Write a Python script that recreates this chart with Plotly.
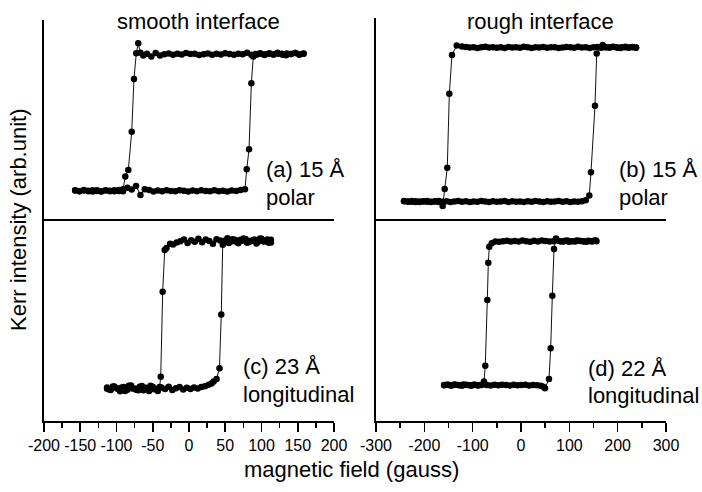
import plotly.graph_objects as go

# ---------------- data (field in gauss, Kerr intensity in arb. units) ----------------
# (a) smooth interface, 15 A, polar
a_down_x = [158,152,146,140,134,128,122,116,110,104,98,92,86,80,74,68,62,56,50,44,
            38,32,26,20,14,8,2,-4,-10,-16,-22,-28,-34,-40,-46,-52,-58,-63,-67,
            -70,-72.7,-75.9,-79,-83.7,-87.9,-91,
            -97,-103,-109,-115,-121,-127,-133,-139,-145,-151,-157]
a_down_y = [0.832,0.826,0.834,0.829,0.823,0.831,0.836,0.827,0.830,0.824,
            0.833,0.829,0.826,0.835,0.828,0.831,0.825,0.829,0.833,0.827,
            0.830,0.826,0.832,0.828,0.824,0.831,0.829,0.834,0.827,0.830,
            0.825,0.832,0.828,0.821,0.834,0.816,0.830,0.822,0.836,
            0.883,0.833,0.704,0.439,0.246,0.213,0.150,
            0.141,0.145,0.139,0.143,0.140,0.144,0.138,0.142,0.146,0.140,0.143]
a_up_x = [-157,-151,-145,-139,-133,-127,-121,-115,-109,-103,-97,-91,-85,-79,-73,-67,-61,-55,-49,-43,
          -37,-31,-25,-19,-13,-7,-1,5,11,17,23,29,35,41,47,53,59,65,71,
          77.2,79.6,82.8,86,88.7,
          93,99,105,111,117,123,129,135,141,147,153,158]
a_up_y = [0.144,0.140,0.143,0.139,0.145,0.141,0.138,0.144,0.142,0.140,
          0.146,0.139,0.157,0.148,0.166,0.121,0.150,0.146,0.138,0.143,
          0.140,0.145,0.141,0.139,0.144,0.142,0.138,0.143,0.140,0.145,
          0.141,0.139,0.144,0.140,0.142,0.138,0.143,0.141,0.146,
          0.149,0.250,0.350,0.682,0.816,
          0.826,0.831,0.828,0.833,0.827,0.830,0.825,0.832,0.829,0.834,0.828,0.831]

# (b) rough interface, 15 A, polar
b_down_x = [238,230,222,214,206,198,190,182,174,166,158,150,142,134,126,118,110,102,94,86,
            78,70,62,54,46,38,30,22,14,6,-2,-10,-18,-26,-34,-42,-50,-58,-66,-74,
            -82,-90,-98,-106,-114,-122,
            -133,-142.8,-148.3,-152.5,-157.9,-162,
            -170,-178,-186,-194,-202,-210,-218,-226,-234,-242]
b_down_y = [0.853,0.856,0.852,0.855,0.851,0.854,0.857,0.853,0.855,0.852,
            0.856,0.854,0.851,0.855,0.853,0.857,0.852,0.854,0.856,0.853,
            0.851,0.855,0.854,0.852,0.856,0.853,0.855,0.851,0.854,0.857,
            0.852,0.855,0.853,0.856,0.851,0.854,0.852,0.855,0.853,0.857,
            0.854,0.851,0.855,0.853,0.856,0.858,
            0.863,0.816,0.623,0.255,0.149,0.065,
            0.085,0.088,0.086,0.089,0.087,0.085,0.088,0.086,0.087,0.089]
b_up_x = [-242,-234,-226,-218,-210,-202,-194,-186,-178,-170,-162,-154,-146,-138,-130,-122,
          -114,-106,-98,-90,-82,-74,-66,-58,-50,-42,-34,-26,-18,-10,-2,6,14,22,30,38,
          46,54,62,70,78,86,94,102,110,118,126,134,
          141.3,144.8,153.1,156.6,169,
          176,184,192,200,208,216,224,232,238]
b_up_y = [0.088,0.086,0.089,0.085,0.087,0.088,0.086,0.084,0.087,0.089,
          0.086,0.088,0.085,0.087,0.089,0.086,0.088,0.085,0.087,0.086,
          0.089,0.087,0.085,0.088,0.086,0.087,0.089,0.085,0.088,0.086,
          0.087,0.085,0.088,0.086,0.089,0.087,0.085,0.088,0.086,0.087,
          0.089,0.086,0.088,0.085,0.087,0.086,0.088,0.093,
          0.117,0.233,0.564,0.824,0.866,
          0.855,0.853,0.856,0.852,0.854,0.857,0.853,0.855,0.852]

# (c) smooth interface, 23 A, longitudinal
c_down_x = [113,108,103,98,93,88,83,78,73,68,63,58,53,48,43,38,33,28,23,18,13,8,3,-2,-7,-12,-17,-22,
            -26,-31,-33.5,-36.3,-39,-40.5,
            -45,-50,-55,-60,-65,-70,-75,-80,-85,-90,-95,-100,-105,-110,-113]
c_down_y = [0.884,0.899,0.888,0.903,0.879,0.894,0.886,0.901,0.892,0.880,
            0.897,0.889,0.905,0.883,0.893,0.900,0.878,0.891,0.898,0.885,
            0.902,0.887,0.895,0.881,0.899,0.890,0.884,0.874,
            0.878,0.856,0.846,0.640,0.219,0.168,
            0.158,0.170,0.149,0.165,0.173,0.152,0.161,0.176,0.155,0.168,0.147,0.163,0.171,0.156,0.166]
c_up_x = [-113,-108,-103,-98,-93,-88,-83,-78,-73,-68,-63,-58,-53,-48,-43,-38,-33,-28,-23,-18,
          -13,-8,-3,2,7,12,17,22,27,
          31,34,38,42,44.5,46.5,
          50,55,60,65,70,75,80,85,90,95,100,105,110,113]
c_up_y = [0.160,0.153,0.171,0.158,0.166,0.149,0.174,0.161,0.155,0.169,
          0.152,0.163,0.175,0.157,0.148,0.166,0.159,0.170,0.154,0.162,
          0.168,0.156,0.164,0.158,0.166,0.161,0.168,0.172,0.180,
          0.186,0.195,0.208,0.261,0.527,0.872,
          0.893,0.881,0.900,0.887,0.896,0.904,0.882,0.892,0.899,0.886,0.902,0.890,0.883,0.897]

# (d) rough interface, 22 A, longitudinal
d_down_x = [155,147,139,131,123,115,107,99,91,83,75,67,59,51,43,35,27,19,11,3,-5,-13,-21,-29,-37,-45,-53,
            -60.6,-65.6,-67.6,-69.7,-73.9,-76.6,
            -82,-90,-98,-106,-114,-122,-130,-138,-146,-154,-159]
d_down_y = [0.893,0.889,0.892,0.888,0.891,0.894,0.890,0.887,0.892,0.889,
            0.893,0.890,0.888,0.891,0.894,0.889,0.892,0.887,0.890,0.893,
            0.889,0.891,0.888,0.892,0.890,0.887,0.889,
            0.880,0.863,0.784,0.599,0.274,0.195,
            0.178,0.176,0.180,0.177,0.179,0.175,0.178,0.181,0.176,0.179,0.177]
d_up_x = [-159,-151,-143,-135,-127,-119,-111,-103,-95,-87,-79,-71,-63,-55,-47,-39,-31,-23,-15,-7,
          1,9,17,25,33,41,46,
          49.7,57.9,61.4,64.8,68.3,72.4,
          80,88,96,104,112,120,128,136,144,152,156]
d_up_y = [0.178,0.180,0.176,0.179,0.177,0.181,0.178,0.175,0.179,0.177,
          0.182,0.178,0.176,0.179,0.177,0.180,0.178,0.176,0.179,0.177,
          0.178,0.180,0.176,0.178,0.177,0.175,0.170,
          0.162,0.208,0.360,0.620,0.851,0.904,
          0.891,0.889,0.893,0.890,0.888,0.892,0.890,0.887,0.891,0.893,0.890]

left_tickvals = [-200,-150,-100,-50,0,50,100,150,200]
left_ticktext = ['-200','-150','-100','-50','0','50','100','150','200']
left_minor = [-175,-125,-75,-25,25,75,125,175]
right_tickvals = [-300,-200,-100,0,100,200,300]
right_ticktext = ['-300','-200','-100','0','100','200','300']
right_minor = [-250,-150,-50,50,150,250]

titles = ['smooth interface', 'rough interface']
labels = [('(a) 15 Å', 'polar'), ('(b) 15 Å', 'polar'),
          ('(c) 23 Å', 'longitudinal'), ('(d) 22 Å', 'longitudinal')]
x_title = 'magnetic field (gauss)'
y_title = 'Kerr intensity (arb.unit)'

# ---------------- figure ----------------
W, H = 702, 492
FONT = 'Liberation Sans, Arial, Helvetica, sans-serif'

def fx(p):
    return p / W

def fy(p):
    return 1 - p / H

series = [(a_down_x, a_down_y, a_up_x, a_up_y),
          (b_down_x, b_down_y, b_up_x, b_up_y),
          (c_down_x, c_down_y, c_up_x, c_up_y),
          (d_down_x, d_down_y, d_up_x, d_up_y)]

for s in series:
    assert len(s[0]) == len(s[1]) and len(s[2]) == len(s[3])

fig = go.Figure()
axn = ['', '2', '3', '4']
for i, (dx, dy, ux, uy) in enumerate(series):
    for xs, ys in ((dx, dy), (ux, uy)):
        fig.add_trace(go.Scatter(
            x=xs, y=ys, xaxis='x' + axn[i], yaxis='y' + axn[i],
            mode='lines+markers',
            line=dict(color='#111111', width=1),
            marker=dict(color='black', size=6.5),
            showlegend=False, hoverinfo='skip'))

col_dom = [[fx(44), fx(334)], [fx(376), fx(666)]]
top_dom = [[fy(219), fy(20)], [fy(219), fy(18)]]
bot_dom = [fy(421), fy(219)]
LW = 1.6

layout = dict(width=W, height=H, margin=dict(l=0, r=0, t=0, b=0, pad=0, autoexpand=False),
              paper_bgcolor='white', plot_bgcolor='white', showlegend=False,
              template='none',
              font=dict(family=FONT, color='black'))

for i in range(4):
    col = i % 2
    row = i // 2
    xr = [-200, 200] if col == 0 else [-300, 300]
    xa = dict(domain=col_dom[col], range=xr, anchor='y' + axn[i], automargin=False,
              showline=True, linecolor='black', linewidth=LW, mirror=False,
              showgrid=False, zeroline=False, fixedrange=True)
    if row == 0:
        xa.update(ticks='', showticklabels=False)
    else:
        tv = left_tickvals if col == 0 else right_tickvals
        tt = left_ticktext if col == 0 else right_ticktext
        mv = left_minor if col == 0 else right_minor
        xa.update(tickmode='array', tickvals=tv, ticktext=tt, ticks='outside',
                  ticklen=9, tickwidth=LW, tickcolor='black',
                  tickfont=dict(size=16, family=FONT, color='black'),
                  minor=dict(tickmode='array', tickvals=mv, ticks='outside',
                             ticklen=5, tickwidth=LW, tickcolor='black',
                             showgrid=False))
    ya = dict(domain=top_dom[col] if row == 0 else bot_dom, range=[0, 1],
              anchor='x' + axn[i], automargin=False,
              showline=True, linecolor='black', linewidth=LW,
              ticks='', showticklabels=False, showgrid=False, zeroline=False,
              fixedrange=True)
    layout['xaxis' + axn[i]] = xa
    layout['yaxis' + axn[i]] = ya

ann = []
def add_text(text, x, y, size=22, xanchor='left', angle=0):
    ann.append(dict(text=text, x=fx(x), y=fy(y), xref='paper', yref='paper',
                    xanchor=xanchor, yanchor='middle', showarrow=False,
                    textangle=angle, font=dict(size=size, family=FONT, color='black')))

add_text(titles[0], 199, 21, xanchor='center')
add_text(titles[1], 540, 21, xanchor='center')
lab_pos = [(264, 169, 197), (617, 169, 197), (241, 366, 394), (586, 368, 395)]
for (l1, l2), (x, y1, y2) in zip(labels, lab_pos):
    add_text(l1, x, y1)
    add_text(l2, x, y2)
add_text(x_title, 351, 469, xanchor='center')
add_text(y_title, 18, 220, xanchor='center', angle=-90)
layout['annotations'] = ann

fig.update_layout(**layout)
fig.write_html('out.html', config={'displayModeBar': False, 'staticPlot': True},
               post_script="document.body.style.margin='0';document.body.style.overflow='hidden';")
